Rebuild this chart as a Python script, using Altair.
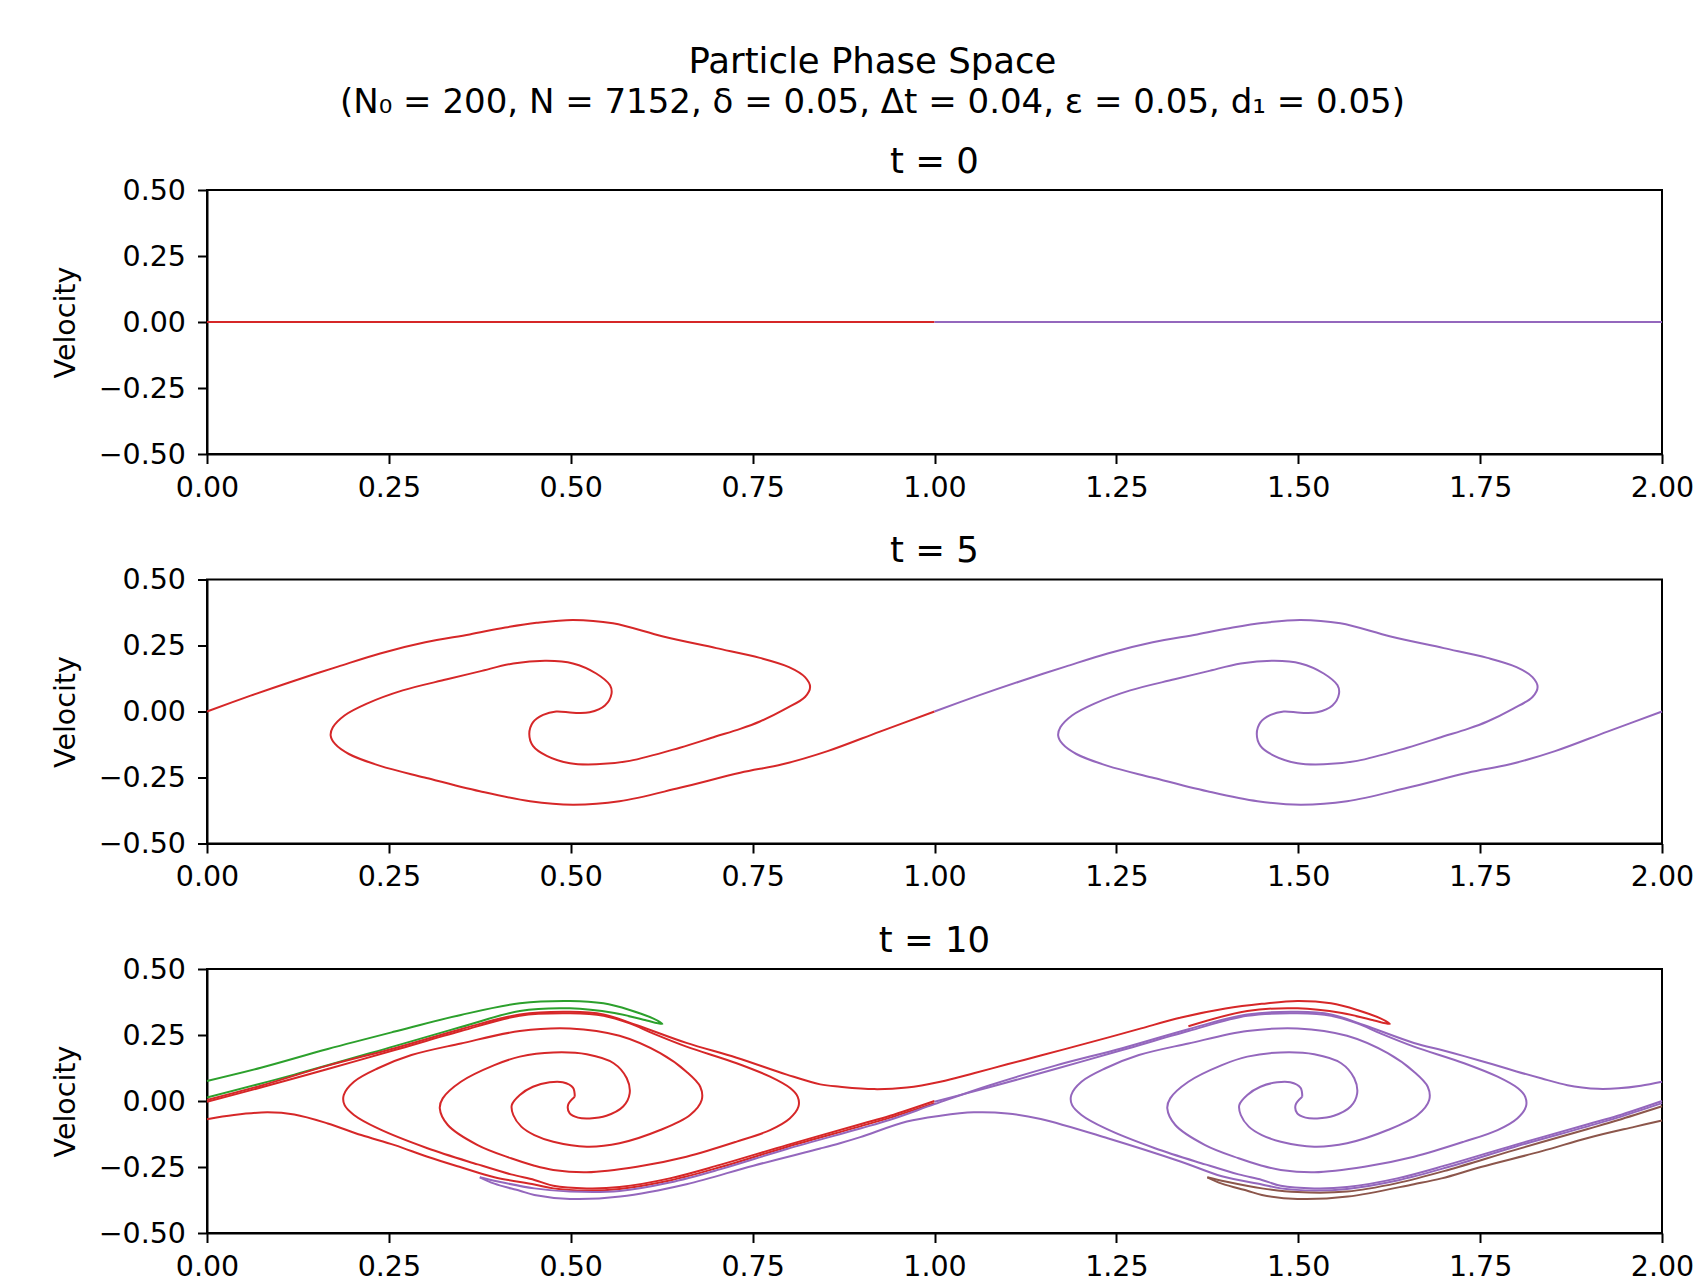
import altair as alt
import pandas as pd

# ---------------- tick values ----------------
X_TICKS = [0.0, 0.25, 0.5, 0.75, 1.0, 1.25, 1.5, 1.75, 2.0]
Y_TICKS = [-0.5, -0.25, 0.0, 0.25, 0.5]

TITLE = "Particle Phase Space"
SUBTITLE = "(N\u2080 = 200, N = 7152, \u03b4 = 0.05, \u0394t = 0.04, \u03b5 = 0.05, d\u2081 = 0.05)"
PANEL_TITLES = ["t = 0", "t = 5", "t = 10"]

# ---------------- t = 0 ----------------
T0_RED_X = [0.0, 0.5, 1.0]
T0_RED_Y = [0.0, 0.0, 0.0]
T0_PURPLE_X = [1.0, 1.5, 2.0]
T0_PURPLE_Y = [0.0, 0.0, 0.0]

# ---------------- t = 5 ----------------
T5_RED_X = [0.000, 0.060, 0.115, 0.180, 0.238, 0.300, 0.361, 0.410, 0.453, 0.503, 0.558, 0.627,
            0.700, 0.760, 0.800, 0.822, 0.829, 0.822, 0.795, 0.760, 0.733, 0.699, 0.650, 0.581,
            0.535, 0.499, 0.467, 0.448, 0.443, 0.448, 0.462, 0.480, 0.503, 0.526, 0.547, 0.556,
            0.554, 0.535, 0.503, 0.467, 0.421, 0.375, 0.330, 0.269, 0.219, 0.189, 0.173, 0.170,
            0.176, 0.195, 0.238, 0.299, 0.375, 0.444, 0.503, 0.567, 0.650, 0.733, 0.791, 0.853,
            0.925, 1.000]
T5_RED_Y = [0.000, 0.060, 0.112, 0.170, 0.220, 0.262, 0.292, 0.318, 0.336, 0.347, 0.334, 0.284,
            0.240, 0.203, 0.168, 0.130, 0.093, 0.055, 0.010, -0.038, -0.066, -0.095, -0.137, -0.187,
            -0.200, -0.196, -0.168, -0.130, -0.085, -0.041, -0.013, 0.000, -0.005, -0.003, 0.023, 0.067,
            0.099, 0.144, 0.182, 0.192, 0.182, 0.152, 0.122, 0.080, 0.029, -0.015, -0.060, -0.091,
            -0.123, -0.161, -0.206, -0.250, -0.302, -0.340, -0.353, -0.340, -0.289, -0.232, -0.200, -0.150,
            -0.076, 0.000]
T5_PURPLE_X = [1.000, 1.060, 1.115, 1.180, 1.238, 1.300, 1.361, 1.410, 1.453, 1.503, 1.558, 1.627,
               1.700, 1.760, 1.800, 1.822, 1.829, 1.822, 1.795, 1.760, 1.733, 1.699, 1.650, 1.581,
               1.535, 1.499, 1.467, 1.448, 1.443, 1.448, 1.462, 1.480, 1.503, 1.526, 1.547, 1.556,
               1.554, 1.535, 1.503, 1.467, 1.421, 1.375, 1.330, 1.269, 1.219, 1.189, 1.173, 1.170,
               1.176, 1.195, 1.238, 1.299, 1.375, 1.444, 1.503, 1.567, 1.650, 1.733, 1.791, 1.853,
               1.925, 2.000]
T5_PURPLE_Y = [0.000, 0.060, 0.112, 0.170, 0.220, 0.262, 0.292, 0.318, 0.336, 0.347, 0.334, 0.284,
               0.240, 0.203, 0.168, 0.130, 0.093, 0.055, 0.010, -0.038, -0.066, -0.095, -0.137, -0.187,
               -0.200, -0.196, -0.168, -0.130, -0.085, -0.041, -0.013, 0.000, -0.005, -0.003, 0.023, 0.067,
               0.099, 0.144, 0.182, 0.192, 0.182, 0.152, 0.122, 0.080, 0.029, -0.015, -0.060, -0.091,
               -0.123, -0.161, -0.206, -0.250, -0.302, -0.340, -0.353, -0.340, -0.289, -0.232, -0.200, -0.150,
               -0.076, 0.000]

# ---------------- t = 10 ----------------
T10_GREEN_X = [0.000, 0.074, 0.166, 0.258, 0.349, 0.430, 0.499, 0.545, 0.581, 0.613, 0.626,
               0.600, 0.560, 0.499, 0.430, 0.349, 0.258, 0.120, 0.000]
T10_GREEN_Y = [0.076, 0.126, 0.197, 0.263, 0.326, 0.370, 0.379, 0.370, 0.345, 0.313, 0.292,
               0.308, 0.333, 0.351, 0.341, 0.280, 0.208, 0.100, 0.013]

T10_RED_A_X = [0.000, 0.074, 0.166, 0.258, 0.349, 0.430, 0.499, 0.545, 0.591, 0.659, 0.728, 0.797,
               0.843, 0.870, 0.917, 0.962, 1.008, 1.054, 1.100, 1.146, 1.192, 1.238, 1.284, 1.339,
               1.400, 1.450, 1.499, 1.545, 1.581, 1.613, 1.626, 1.600, 1.560, 1.499, 1.430, 1.349]
T10_RED_A_Y = [0.004, 0.058, 0.134, 0.200, 0.272, 0.328, 0.338, 0.328, 0.287, 0.220, 0.164, 0.100,
               0.063, 0.054, 0.045, 0.051, 0.073, 0.105, 0.139, 0.172, 0.206, 0.240, 0.275, 0.316,
               0.350, 0.368, 0.379, 0.370, 0.345, 0.313, 0.292, 0.308, 0.333, 0.351, 0.341, 0.283]

T10_RED_B_X = [0.5055, 0.4963, 0.4986, 0.510, 0.526, 0.549, 0.572, 0.581, 0.577, 0.559, 0.522, 0.476,
               0.430, 0.395, 0.349, 0.324, 0.320, 0.331, 0.372, 0.418, 0.450, 0.476, 0.522, 0.591,
               0.659, 0.728, 0.774, 0.801, 0.813, 0.812, 0.802, 0.774, 0.728, 0.659, 0.613, 0.581,
               0.545, 0.499, 0.430, 0.349, 0.258, 0.166, 0.074, 0.000]
T10_RED_B_Y = [0.016, -0.015, -0.047, -0.063, -0.066, -0.056, -0.021, 0.029, 0.086, 0.143, 0.177, 0.184,
               0.168, 0.136, 0.073, 0.010, -0.028, -0.091, -0.167, -0.217, -0.245, -0.261, -0.270, -0.249,
               -0.211, -0.154, -0.110, -0.066, -0.021, 0.016, 0.048, 0.092, 0.143, 0.206, 0.256, 0.294,
               0.323, 0.332, 0.323, 0.265, 0.193, 0.121, 0.051, -0.003]

T10_RED_C_X = [0.5055, 0.503, 0.489, 0.471, 0.448, 0.430, 0.419, 0.421, 0.432, 0.450, 0.476, 0.522,
               0.567, 0.623, 0.664, 0.680, 0.678, 0.659, 0.623, 0.567, 0.499, 0.430, 0.349, 0.281,
               0.235, 0.202, 0.188, 0.189, 0.202, 0.235, 0.303, 0.372, 0.418, 0.450, 0.476, 0.522,
               0.567, 0.636, 0.705, 0.797, 0.898, 0.939, 1.000]
T10_RED_C_Y = [0.016, 0.051, 0.071, 0.071, 0.054, 0.023, -0.015, -0.053, -0.097, -0.129, -0.154, -0.173,
               -0.160, -0.110, -0.053, 0.004, 0.054, 0.111, 0.181, 0.247, 0.275, 0.265, 0.218, 0.174,
               0.124, 0.073, 0.023, -0.015, -0.053, -0.104, -0.179, -0.240, -0.278, -0.299, -0.321, -0.331,
               -0.326, -0.293, -0.242, -0.167, -0.088, -0.056, 0.000]

T10_RED_D_X = [0.000, 0.037, 0.083, 0.120, 0.166, 0.212, 0.258, 0.303, 0.349, 0.395, 0.450, 0.476,
               0.522, 0.567, 0.636, 0.705, 0.797, 0.898, 0.939, 1.000]
T10_RED_D_Y = [-0.069, -0.053, -0.043, -0.051, -0.085, -0.129, -0.167, -0.211, -0.251, -0.289, -0.316, -0.331,
               -0.339, -0.333, -0.301, -0.251, -0.174, -0.096, -0.063, -0.008]

T10_PURPLE_A_X = [0.375, 0.400, 0.450, 0.499, 0.567, 0.636, 0.705, 0.797, 0.898, 0.939, 1.000,
                  1.074, 1.166, 1.258, 1.349, 1.430, 1.499, 1.545, 1.591, 1.659, 1.697, 1.728,
                  1.766, 1.800, 1.835, 1.870, 1.890, 1.912, 1.940, 1.971, 2.000]
T10_PURPLE_A_Y = [-0.289, -0.305, -0.331, -0.343, -0.341, -0.309, -0.259, -0.182, -0.104, -0.071, -0.012,
                  0.058, 0.134, 0.200, 0.272, 0.328, 0.338, 0.328, 0.287, 0.220, 0.193, 0.170,
                  0.140, 0.112, 0.085, 0.060, 0.051, 0.046, 0.048, 0.058, 0.073]

T10_PURPLE_B_X = [1.5055, 1.4963, 1.4986, 1.510, 1.526, 1.549, 1.572, 1.581, 1.577, 1.559, 1.522, 1.476,
                  1.430, 1.395, 1.349, 1.324, 1.320, 1.331, 1.372, 1.418, 1.450, 1.476, 1.522, 1.591,
                  1.659, 1.728, 1.774, 1.801, 1.813, 1.812, 1.802, 1.774, 1.728, 1.659, 1.613, 1.581,
                  1.545, 1.499, 1.430, 1.349, 1.258, 1.166, 1.074, 1.000]
T10_PURPLE_B_Y = [0.016, -0.015, -0.047, -0.063, -0.066, -0.056, -0.021, 0.029, 0.086, 0.143, 0.177, 0.184,
                  0.168, 0.136, 0.073, 0.010, -0.028, -0.091, -0.167, -0.217, -0.245, -0.261, -0.270, -0.249,
                  -0.211, -0.154, -0.110, -0.066, -0.021, 0.016, 0.048, 0.092, 0.143, 0.206, 0.256, 0.294,
                  0.323, 0.332, 0.323, 0.265, 0.193, 0.121, 0.051, -0.003]

T10_PURPLE_C_X = [1.5055, 1.503, 1.489, 1.471, 1.448, 1.430, 1.419, 1.421, 1.432, 1.450, 1.476, 1.522,
                  1.567, 1.623, 1.664, 1.680, 1.678, 1.659, 1.623, 1.567, 1.499, 1.430, 1.349, 1.281,
                  1.235, 1.202, 1.188, 1.189, 1.202, 1.235, 1.303, 1.372, 1.418, 1.450, 1.476, 1.522,
                  1.567, 1.636, 1.705, 1.797, 1.898, 1.939, 2.000]
T10_PURPLE_C_Y = [0.016, 0.051, 0.071, 0.071, 0.054, 0.023, -0.015, -0.053, -0.097, -0.129, -0.154, -0.173,
                  -0.160, -0.110, -0.053, 0.004, 0.054, 0.111, 0.181, 0.247, 0.275, 0.265, 0.218, 0.174,
                  0.124, 0.073, 0.023, -0.015, -0.053, -0.104, -0.179, -0.240, -0.278, -0.299, -0.321, -0.331,
                  -0.326, -0.293, -0.242, -0.167, -0.088, -0.056, 0.000]

T10_PURPLE_D_X = [0.375, 0.395, 0.430, 0.450, 0.499, 0.568, 0.659, 0.751, 0.843, 0.870, 0.898, 0.962,
                  1.008, 1.054, 1.100, 1.146, 1.238, 1.339, 1.395, 1.450, 1.476, 1.522, 1.567, 1.636,
                  1.705, 1.797, 1.898, 1.939, 2.000]
T10_PURPLE_D_Y = [-0.289, -0.313, -0.340, -0.356, -0.371, -0.362, -0.315, -0.245, -0.180, -0.160, -0.137, -0.078,
                  -0.056, -0.043, -0.047, -0.068, -0.141, -0.230, -0.285, -0.316, -0.331, -0.339, -0.333, -0.301,
                  -0.251, -0.174, -0.096, -0.063, -0.008]

T10_BROWN_A_X = [1.375, 1.400, 1.450, 1.499, 1.567, 1.636, 1.705, 1.797, 1.898, 1.939, 2.000]
T10_BROWN_A_Y = [-0.289, -0.305, -0.331, -0.345, -0.343, -0.311, -0.262, -0.186, -0.106, -0.073, -0.020]
T10_BROWN_B_X = [1.375, 1.395, 1.430, 1.450, 1.499, 1.568, 1.659, 1.697, 1.751, 1.835, 1.898, 1.962, 2.000]
T10_BROWN_B_Y = [-0.289, -0.313, -0.340, -0.356, -0.371, -0.362, -0.315, -0.293, -0.250, -0.190, -0.140, -0.098, -0.074]

STROKES = [
    ("t0", "red", "t0r", T0_RED_X, T0_RED_Y),
    ("t0", "purple", "t0p", T0_PURPLE_X, T0_PURPLE_Y),
    ("t5", "red", "t5r", T5_RED_X, T5_RED_Y),
    ("t5", "purple", "t5p", T5_PURPLE_X, T5_PURPLE_Y),
    ("t10", "green", "g", T10_GREEN_X, T10_GREEN_Y),
    ("t10", "red", "ra", T10_RED_A_X, T10_RED_A_Y),
    ("t10", "red", "rb", T10_RED_B_X, T10_RED_B_Y),
    ("t10", "red", "rc", T10_RED_C_X, T10_RED_C_Y),
    ("t10", "red", "rd", T10_RED_D_X, T10_RED_D_Y),
    ("t10", "purple", "pa", T10_PURPLE_A_X, T10_PURPLE_A_Y),
    ("t10", "purple", "pb", T10_PURPLE_B_X, T10_PURPLE_B_Y),
    ("t10", "purple", "pc", T10_PURPLE_C_X, T10_PURPLE_C_Y),
    ("t10", "purple", "pd", T10_PURPLE_D_X, T10_PURPLE_D_Y),
    ("t10", "brown", "ba", T10_BROWN_A_X, T10_BROWN_A_Y),
    ("t10", "brown", "bb", T10_BROWN_B_X, T10_BROWN_B_Y),
]

rows = []
for panel, color, sid, xs, ys in STROKES:
    for i, (x, y) in enumerate(zip(xs, ys)):
        rows.append({"panel": panel, "color": color, "sid": sid, "i": i, "x": x, "y": y})
df = pd.DataFrame(rows)

COLORS = {"green": "#2ca02c", "red": "#d62728", "purple": "#9467bd", "brown": "#8c564b"}
ORDER = ["green", "red", "purple", "brown"]

FONT = "DejaVu Sans"
W, H = 1455, 264


def panel(pid, title):
    layers = []
    for c in ORDER:
        sub = df[(df.panel == pid) & (df.color == c)]
        if len(sub) == 0:
            continue
        layers.append(
            alt.Chart(sub).mark_line(color=COLORS[c], strokeWidth=2,
                                     interpolate="catmull-rom").encode(
                x=alt.X("x:Q", scale=alt.Scale(domain=[0, 2], nice=False, zero=False),
                        axis=alt.Axis(values=X_TICKS, format=".2f", title=None,
                                      labelFlush=False, labelOverlap=False)),
                y=alt.Y("y:Q", scale=alt.Scale(domain=[-0.5, 0.5], nice=False, zero=False),
                        axis=alt.Axis(values=Y_TICKS, format=".2f", title="Velocity",
                                      labelOverlap=False)),
                detail="sid:N",
                order="i:Q",
            )
        )
    return alt.layer(*layers).properties(
        width=W, height=H,
        title=alt.TitleParams(title, offset=-4, fontSize=35.5, font=FONT,
                              fontWeight="normal", color="black"),
    )


chart = alt.vconcat(
    panel("t0", PANEL_TITLES[0]),
    panel("t5", PANEL_TITLES[1]),
    panel("t10", PANEL_TITLES[2]),
    spacing=29.5,
).properties(
    title=alt.TitleParams(TITLE, subtitle=SUBTITLE, anchor="middle", fontSize=35.5,
                          subtitleFontSize=34, subtitlePadding=5.5, subtitleFont=FONT,
                          subtitleColor="black", offset=23.5,
                          font=FONT, fontWeight="normal", color="black"),
    padding={"left": 50, "top": 45, "right": 5, "bottom": 5},
    background="white",
).configure_view(
    stroke="black", strokeWidth=2
).configure_axis(
    grid=False, domainColor="black", domainWidth=2, tickColor="black", tickWidth=2,
    tickSize=9.5, labelFont=FONT, labelFontSize=28.5, labelColor="black",
    titleFont=FONT, titleFontSize=28.5, titleFontWeight="normal", titleColor="black",
).configure_axisX(labelPadding=9.5).configure_axisY(labelPadding=12, titlePadding=18)

chart.save("out.html", embed_options={"renderer": "svg", "actions": False})
